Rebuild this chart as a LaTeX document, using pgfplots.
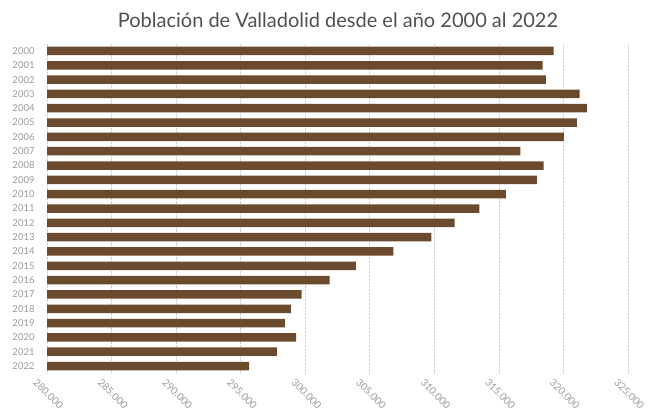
\documentclass[border=0pt]{standalone}
\usepackage{pgfplots}
\pgfplotsset{compat=1.18}
\usepackage{fontspec}
\setmainfont{Lato}
\definecolor{barbrown}{HTML}{6B4A2E}
\definecolor{titlegray}{HTML}{505050}
\definecolor{tickgray}{HTML}{9A9A9A}
\definecolor{gridgray}{HTML}{D0D0D0}
\begin{document}
\begin{tikzpicture}[x=1pt,y=1pt]
\path[use as bounding box] (0,0) rectangle (669,414);
\node[anchor=center, text=titlegray, font=\fontsize{20}{22}\selectfont] at (338,394) {Población de Valladolid desde el año 2000 al 2022};
\begin{axis}[
  at={(47pt,40.8pt)}, anchor=south west,
  scale only axis, width=581pt, height=329.4pt,
  xbar, bar width=8.5pt, bar shift=0pt,
  xmin=280000, xmax=325000,
  ymin=1999.5, ymax=2022.5, y dir=reverse,
  ytick={2000,...,2022},
  yticklabels={2000,2001,2002,2003,2004,2005,2006,2007,2008,2009,2010,2011,2012,2013,2014,2015,2016,2017,2018,2019,2020,2021,2022},
  xtick={280000,285000,290000,295000,300000,305000,310000,315000,320000,325000},
  xticklabels={280.000,285.000,290.000,295.000,300.000,305.000,310.000,315.000,320.000,325.000},
  axis line style={draw=none},
  tick style={draw=none},
  xmajorgrids, grid style={gridgray, densely dotted, line width=0.6pt},
  scaled x ticks=false,
  xticklabel style={font=\fontsize{10}{11}\selectfont, text=tickgray, rotate=-45, anchor=north west, inner sep=0pt, yshift=-10pt, xshift=-3pt},
  yticklabel style={font=\fontsize{9.5}{10}\selectfont, text=tickgray, anchor=east, inner sep=0pt, xshift=-8pt},
]
\addplot[fill=barbrown, draw=none] coordinates {
(319242,2000)
(318390,2001)
(318646,2002)
(321254,2003)
(321819,2004)
(321045,2005)
(320039,2006)
(316664,2007)
(318468,2008)
(317949,2009)
(315550,2010)
(313491,2011)
(311579,2012)
(309776,2013)
(306835,2014)
(303917,2015)
(301881,2016)
(299714,2017)
(298886,2018)
(298421,2019)
(299296,2020)
(297802,2021)
(295658,2022)
};
\end{axis}
\end{tikzpicture}
\end{document}
